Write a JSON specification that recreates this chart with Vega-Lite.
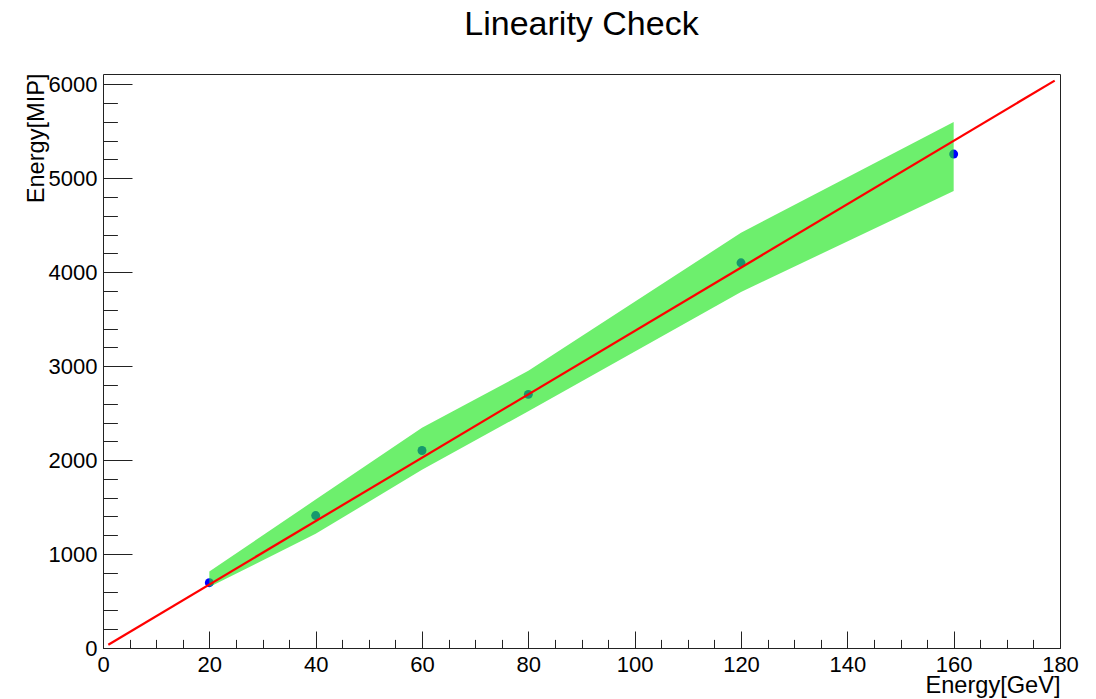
{
  "$schema": "https://vega.github.io/schema/vega-lite/v6.json",
  "width": 957,
  "height": 574,
  "autosize": {"type": "none"},
  "padding": {"left": 103, "top": 74, "right": 36, "bottom": 51},
  "background": "white",
  "title": {
    "text": "Linearity Check",
    "font": "Liberation Sans",
    "fontSize": 34,
    "fontWeight": "normal",
    "color": "#000000",
    "anchor": "middle",
    "frame": "group",
    "baseline": "alphabetic",
    "offset": 4
  },
  "config": {
    "view": {"stroke": "#222222", "strokeWidth": 1},
    "axis": {
      "labelFont": "Liberation Sans",
      "titleFont": "Liberation Sans",
      "labelFontSize": 22,
      "titleFontSize": 23.6,
      "titleFontWeight": "normal",
      "labelColor": "#000000",
      "titleColor": "#000000",
      "tickColor": "#222222",
      "tickWidth": 1,
      "grid": false,
      "domain": false
    }
  },
  "datasets": {
    "measurements": [
      {"energy_gev": 20, "energy_mip": 695, "band_lo": 649, "band_hi": 815},
      {"energy_gev": 40, "energy_mip": 1410, "band_lo": 1215, "band_hi": 1580},
      {"energy_gev": 60, "energy_mip": 2102, "band_lo": 1897, "band_hi": 2344},
      {"energy_gev": 80, "energy_mip": 2700, "band_lo": 2520, "band_hi": 2950},
      {"energy_gev": 120, "energy_mip": 4100, "band_lo": 3790, "band_hi": 4420},
      {"energy_gev": 160, "energy_mip": 5258, "band_lo": 4865, "band_hi": 5599}
    ],
    "fit": [
      {"energy_gev": 1, "energy_mip": 35},
      {"energy_gev": 179, "energy_mip": 6040}
    ]
  },
  "layer": [
    {
      "data": {"name": "measurements"},
      "mark": {"type": "point", "filled": true, "shape": "circle", "size": 80, "color": "#0000ff", "opacity": 1},
      "encoding": {
        "x": {
          "field": "energy_gev",
          "type": "quantitative",
          "scale": {"domain": [0, 180], "nice": false, "zero": false},
          "axis": {
            "orient": "bottom",
            "values": [0, 20, 40, 60, 80, 100, 120, 140, 160, 180],
            "format": "d",
            "tickSize": -17,
            "labelPadding": 40.7,
            "labelBaseline": "alphabetic",
            "labelFlush": false,
            "labelOverlap": false,
            "title": "Energy[GeV]",
            "titleAnchor": "end",
            "titleAlign": "right",
            "titleBaseline": "alphabetic",
            "titleX": 957,
            "titleY": 44.7
          }
        },
        "y": {
          "field": "energy_mip",
          "type": "quantitative",
          "scale": {"domain": [0, 6110], "nice": false, "zero": false},
          "axis": {
            "orient": "left",
            "values": [0, 1000, 2000, 3000, 4000, 5000, 6000],
            "format": "d",
            "tickSize": -29,
            "labelPadding": 35,
            "labelAlign": "right",
            "labelBaseline": "middle",
            "labelFlush": false,
            "labelOverlap": false,
            "title": "Energy[MIP]",
            "titleAngle": 270,
            "titleAlign": "right",
            "titleBaseline": "alphabetic",
            "titleX": -60,
            "titleY": -1
          }
        }
      }
    },
    {
      "data": {"name": "measurements"},
      "mark": {"type": "area", "color": "#22e622", "opacity": 0.66, "interpolate": "linear"},
      "encoding": {
        "x": {
          "field": "energy_gev",
          "type": "quantitative",
          "axis": {
            "orient": "bottom",
            "values": [0, 5, 10, 15, 20, 25, 30, 35, 40, 45, 50, 55, 60, 65, 70, 75, 80, 85, 90, 95, 100, 105, 110, 115, 120, 125, 130, 135, 140, 145, 150, 155, 160, 165, 170, 175, 180],
            "tickSize": -8.6,
            "labels": false,
            "title": null
          }
        },
        "y": {
          "field": "band_lo",
          "type": "quantitative",
          "axis": {
            "orient": "left",
            "values": [0, 200, 400, 600, 800, 1000, 1200, 1400, 1600, 1800, 2000, 2200, 2400, 2600, 2800, 3000, 3200, 3400, 3600, 3800, 4000, 4200, 4400, 4600, 4800, 5000, 5200, 5400, 5600, 5800, 6000],
            "tickSize": -14.4,
            "labels": false,
            "title": null
          }
        },
        "y2": {"field": "band_hi"}
      }
    },
    {
      "data": {"name": "fit"},
      "mark": {"type": "line", "color": "#ff0000", "strokeWidth": 2.2},
      "encoding": {
        "x": {"field": "energy_gev", "type": "quantitative", "axis": null},
        "y": {"field": "energy_mip", "type": "quantitative", "axis": null}
      }
    }
  ],
  "resolve": {"axis": {"x": "independent", "y": "independent"}}
}
